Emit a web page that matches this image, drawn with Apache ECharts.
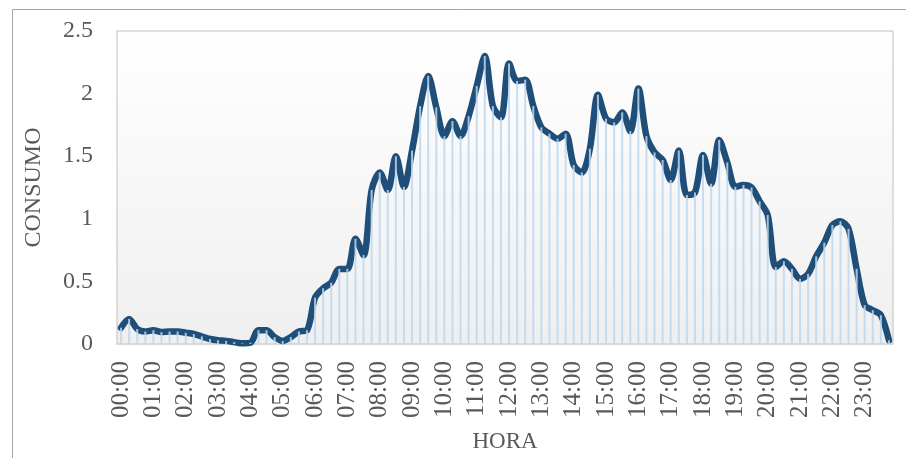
<!DOCTYPE html>
<html>
<head>
<meta charset="utf-8">
<script src="https://cdn.jsdelivr.net/npm/echarts@6/dist/echarts.min.js"></script>
<style>
html,body{margin:0;padding:0;background:#fff;}
#c{width:906px;height:458px;}
</style>
</head>
<body>
<div id="c"></div>
<script>
var categories = [
'00:00','00:15','00:30','00:45','01:00','01:15','01:30','01:45',
'02:00','02:15','02:30','02:45','03:00','03:15','03:30','03:45',
'04:00','04:15','04:30','04:45','05:00','05:15','05:30','05:45',
'06:00','06:15','06:30','06:45','07:00','07:15','07:30','07:45',
'08:00','08:15','08:30','08:45','09:00','09:15','09:30','09:45',
'10:00','10:15','10:30','10:45','11:00','11:15','11:30','11:45',
'12:00','12:15','12:30','12:45','13:00','13:15','13:30','13:45',
'14:00','14:15','14:30','14:45','15:00','15:15','15:30','15:45',
'16:00','16:15','16:30','16:45','17:00','17:15','17:30','17:45',
'18:00','18:15','18:30','18:45','19:00','19:15','19:30','19:45',
'20:00','20:15','20:30','20:45','21:00','21:15','21:30','21:45',
'22:00','22:15','22:30','22:45','23:00','23:15','23:30','23:45'
];
var consumo = [
0.13,0.20,0.12,0.10,0.11,0.095,0.10,0.10,
0.09,0.08,0.06,0.04,0.03,0.025,0.015,0.005,
0.01,0.11,0.11,0.055,0.024,0.055,0.10,0.11,
0.37,0.445,0.49,0.60,0.60,0.84,0.71,1.23,
1.37,1.23,1.50,1.255,1.545,1.90,2.14,1.89,
1.66,1.78,1.66,1.82,2.06,2.30,1.90,1.81,
2.24,2.10,2.11,1.90,1.73,1.68,1.64,1.68,
1.43,1.37,1.56,1.99,1.80,1.77,1.85,1.70,
2.04,1.66,1.53,1.47,1.31,1.545,1.19,1.21,
1.51,1.28,1.63,1.45,1.255,1.27,1.25,1.14,
1.03,0.615,0.66,0.60,0.52,0.56,0.70,0.81,
0.95,0.98,0.92,0.60,0.31,0.27,0.23,0.03
];
var yTicks = [0, 0.5, 1, 1.5, 2, 2.5];

var chart = echarts.init(document.getElementById('c'), null, {renderer:'canvas'});
var font = 'Liberation Serif';
var txt = '#595959';
chart.setOption({
  animation:false,
  graphic:[{
    type:'rect', shape:{x:12.5,y:9.5,width:900,height:470},
    style:{fill:'none',stroke:'#a6a6a6',lineWidth:1}, z:-10, silent:true
  }],
  grid:{
    left:117, top:31, right:13, bottom:111,
    show:true, borderColor:'#bfbfbf', borderWidth:1,
    backgroundColor:new echarts.graphic.LinearGradient(0,0,0,1,[
      {offset:0,color:'#ffffff'},{offset:1,color:'#efefef'}
    ])
  },
  xAxis:{
    type:'category', data:categories, boundaryGap:true,
    name:'HORA', nameLocation:'middle', nameGap:86,
    nameTextStyle:{fontFamily:font,fontSize:23,color:txt},
    axisLine:{show:true,lineStyle:{color:'#d9d9d9',width:2}},
    axisTick:{show:false},
    axisLabel:{interval:3,rotate:90,margin:17,fontFamily:font,fontSize:25,color:txt},
    splitLine:{show:false}
  },
  yAxis:{
    type:'value', min:yTicks[0], max:yTicks[yTicks.length-1], interval:0.5,
    name:'CONSUMO', nameLocation:'middle', nameGap:71,
    nameTextStyle:{fontFamily:font,fontSize:24,color:txt},
    axisLine:{show:false}, axisTick:{show:false},
    axisLabel:{margin:24,fontFamily:font,fontSize:24,color:txt},
    splitLine:{show:false}
  },
  series:[
    {
      type:'line', data:consumo, smooth:0.3, symbol:'none', z:2,
      lineStyle:{color:'#1f4e79',width:6.5,cap:'round',join:'round'}
    },
    {
      type:'bar', data:consumo, barWidth:2, z:3,
      itemStyle:{color:'rgba(189,215,238,0.85)'}
    }
  ]
});
</script>
</body>
</html>
